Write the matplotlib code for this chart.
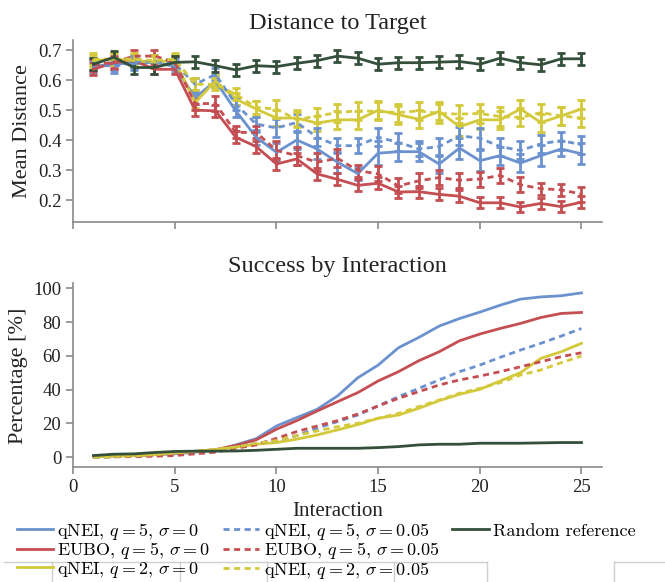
import numpy as np
import matplotlib
matplotlib.use('Agg')
import matplotlib.pyplot as plt
from matplotlib.lines import Line2D

plt.rcParams['font.family'] = ['Liberation Serif', 'DejaVu Serif']
plt.rcParams['mathtext.fontset'] = 'cm'

x = np.arange(1, 26)

# mean distance to target (top panel)
dist_qnei5 = [0.645, 0.655, 0.655, 0.66, 0.645, 0.542, 0.597, 0.498, 0.410, 0.360, 0.401, 0.371, 0.327,
              0.289, 0.357, 0.362, 0.362, 0.321, 0.374, 0.332, 0.349, 0.324, 0.349, 0.371, 0.355]
dist_qnei5_n = [0.655, 0.645, 0.66, 0.665, 0.655, 0.586, 0.619, 0.520, 0.454, 0.441, 0.459, 0.410, 0.382,
                0.382, 0.410, 0.393, 0.371, 0.379, 0.415, 0.407, 0.379, 0.366, 0.388, 0.399, 0.385]
dist_eubo5 = [0.636, 0.658, 0.665, 0.636, 0.636, 0.500, 0.498, 0.410, 0.379, 0.321, 0.338, 0.288, 0.270,
              0.250, 0.257, 0.228, 0.229, 0.220, 0.214, 0.192, 0.192, 0.178, 0.190, 0.179, 0.194]
dist_eubo5_n = [0.65, 0.66, 0.68, 0.68, 0.66, 0.522, 0.522, 0.426, 0.426, 0.366, 0.349, 0.327, 0.340,
                0.299, 0.288, 0.248, 0.265, 0.276, 0.267, 0.271, 0.283, 0.252, 0.239, 0.235, 0.221]
dist_qnei2 = [0.665, 0.67, 0.665, 0.66, 0.665, 0.526, 0.597, 0.537, 0.504, 0.474, 0.474, 0.457, 0.468,
              0.468, 0.500, 0.485, 0.470, 0.496, 0.445, 0.468, 0.468, 0.504, 0.459, 0.481, 0.504]
dist_qnei2_n = [0.67, 0.67, 0.67, 0.665, 0.67, 0.586, 0.586, 0.553, 0.509, 0.504, 0.468, 0.481, 0.492,
                0.498, 0.496, 0.492, 0.498, 0.489, 0.487, 0.489, 0.479, 0.476, 0.492, 0.481, 0.474]
dist_random = [0.653, 0.676, 0.642, 0.642, 0.659, 0.661, 0.648, 0.634, 0.648, 0.645, 0.656, 0.665, 0.680,
               0.673, 0.653, 0.658, 0.658, 0.660, 0.662, 0.653, 0.673, 0.658, 0.651, 0.671, 0.671]

# standard errors (half length of error bars)
err_qnei5 = [0.02, 0.02, 0.02, 0.02, 0.02, 0.02, 0.02, 0.02, 0.025, 0.03, 0.03, 0.035, 0.035,
             0.02, 0.04, 0.03, 0.03, 0.03, 0.035, 0.035, 0.03, 0.03, 0.035, 0.025, 0.035]
err_qnei5_n = [0.02, 0.02, 0.02, 0.02, 0.02, 0.02, 0.02, 0.02, 0.025, 0.03, 0.03, 0.03, 0.025,
               0.025, 0.03, 0.03, 0.025, 0.03, 0.03, 0.035, 0.03, 0.03, 0.03, 0.03, 0.03]
err_eubo5 = [0.02, 0.02, 0.02, 0.015, 0.015, 0.02, 0.02, 0.02, 0.02, 0.02, 0.02, 0.02, 0.02,
             0.02, 0.02, 0.02, 0.02, 0.02, 0.02, 0.018, 0.018, 0.018, 0.018, 0.018, 0.02]
err_eubo5_n = [0.02, 0.02, 0.02, 0.02, 0.02, 0.02, 0.025, 0.02, 0.02, 0.03, 0.03, 0.03, 0.03,
               0.02, 0.025, 0.025, 0.025, 0.025, 0.025, 0.025, 0.025, 0.025, 0.02, 0.02, 0.025]
err_qnei2 = [0.02, 0.02, 0.02, 0.02, 0.02, 0.02, 0.02, 0.02, 0.025, 0.025, 0.025, 0.025, 0.03,
             0.03, 0.03, 0.03, 0.03, 0.03, 0.03, 0.03, 0.03, 0.03, 0.03, 0.03, 0.03]
err_qnei2_n = [0.02, 0.02, 0.02, 0.02, 0.02, 0.02, 0.02, 0.02, 0.02, 0.03, 0.025, 0.025, 0.03,
               0.03, 0.03, 0.03, 0.03, 0.03, 0.03, 0.03, 0.03, 0.03, 0.03, 0.03, 0.03]
err_random = [0.02] * 25

# success percentage (bottom panel)
succ_qnei5 = [0.5, 0.8, 1.0, 1.5, 2.0, 3.0, 4.0, 7.3, 11.0, 18.5, 23.5, 28.4, 36.3,
              47.1, 54.6, 64.9, 71.0, 77.7, 82.2, 86.0, 90.1, 93.7, 95.0, 95.7, 97.4]
succ_qnei5_n = [0.0, 0.3, 0.6, 1.0, 1.6, 2.5, 3.5, 6.0, 8.3, 9.9, 12.8, 17.2, 21.1,
                25.0, 30.4, 35.9, 40.8, 45.8, 50.7, 54.6, 59.2, 63.5, 67.5, 71.8, 76.3]
succ_eubo5 = [0.5, 0.8, 1.0, 1.5, 2.5, 3.5, 4.5, 7.0, 10.3, 16.6, 21.7, 27.4, 32.9,
              38.3, 45.2, 50.7, 57.2, 62.5, 69.0, 73.0, 76.3, 79.3, 82.8, 85.2, 85.8]
succ_eubo5_n = [0.0, 0.2, 0.4, 0.6, 1.0, 2.0, 3.0, 5.3, 7.3, 11.2, 15.2, 18.5, 21.7,
                25.6, 30.4, 34.9, 38.9, 42.8, 45.8, 48.1, 50.7, 53.6, 56.6, 59.6, 61.9]
succ_qnei2 = [0.3, 0.6, 1.0, 1.5, 2.5, 3.5, 4.5, 6.0, 7.7, 8.7, 10.7, 13.2, 16.2,
              19.3, 23.1, 25.0, 29.0, 33.5, 37.3, 40.2, 45.2, 50.1, 58.6, 62.5, 67.5]
succ_qnei2_n = [0.0, 0.4, 0.8, 1.5, 2.5, 3.5, 4.5, 6.0, 8.2, 9.9, 12.8, 15.6, 18.1,
                20.1, 23.1, 26.0, 30.0, 33.9, 37.9, 40.8, 44.2, 48.7, 51.7, 56.0, 60.0]
succ_random = [1.0, 1.8, 2.0, 2.8, 3.4, 3.6, 3.6, 3.7, 4.1, 4.7, 5.3, 5.3, 5.3,
               5.3, 5.7, 6.3, 7.3, 7.7, 7.7, 8.3, 8.3, 8.3, 8.5, 8.7, 8.7]

labels = [r'qNEI, $q=5$, $\sigma=0$', r'EUBO, $q=5$, $\sigma=0$', r'qNEI, $q=2$, $\sigma=0$',
          r'qNEI, $q=5$, $\sigma=0.05$', r'EUBO, $q=5$, $\sigma=0.05$', r'qNEI, $q=2$, $\sigma=0.05$',
          'Random reference']

BLUE, RED, YELLOW, GREEN = '#6b92cf', '#c44e52', '#d3c93a', '#34503a'
DASH = (0, (2.2, 1.6))

series = [
    (dist_qnei5, err_qnei5, succ_qnei5, BLUE, '-'),
    (dist_eubo5, err_eubo5, succ_eubo5, RED, '-'),
    (dist_qnei2, err_qnei2, succ_qnei2, YELLOW, '-'),
    (dist_qnei5_n, err_qnei5_n, succ_qnei5_n, BLUE, DASH),
    (dist_eubo5_n, err_eubo5_n, succ_eubo5_n, RED, DASH),
    (dist_qnei2_n, err_qnei2_n, succ_qnei2_n, YELLOW, DASH),
    (dist_random, err_random, succ_random, GREEN, '-'),
]

fig = plt.figure(figsize=(6.65, 5.82), dpi=100)
ax1 = fig.add_axes([0.11, 0.618, 0.795, 0.313])
ax2 = fig.add_axes([0.11, 0.197, 0.795, 0.316])

handles = []
for (d, e, s, c, ls) in series:
    eb = ax1.errorbar(x, d, yerr=e, color=c, lw=2, capsize=3, capthick=2, elinewidth=2)
    eb[0].set_linestyle(ls)
    h, = ax2.plot(x, s, color=c, lw=2, ls=ls)
    handles.append(h)

for ax in (ax1, ax2):
    ax.set_xlim(0, 26)
    for sp in ('top', 'right'):
        ax.spines[sp].set_visible(False)
    for sp in ('left', 'bottom'):
        ax.spines[sp].set_color('#8a8a8a')
        ax.spines[sp].set_linewidth(1.2)
    ax.tick_params(colors='#8a8a8a', labelcolor='#222222', labelsize=13.5, length=5, width=1.2)
    ax.set_xticks([0, 5, 10, 15, 20, 25])

ax1.set_ylim(0.127, 0.733)
ax1.set_yticks([0.2, 0.3, 0.4, 0.5, 0.6, 0.7])
ax1.set_xticklabels([])
ax1.set_ylabel('Mean Distance', fontsize=16, color='#222222')
ax1.set_title('Distance to Target', fontsize=17.5, color='#222222', pad=8)

ax2.set_ylim(-6, 103)
ax2.set_yticks([0, 20, 40, 60, 80, 100])
ax2.set_ylabel('Percentage [%]', fontsize=16, color='#222222')
ax2.set_xlabel('Interaction', fontsize=15, color='#222222', labelpad=4)
ax2.set_title('Success by Interaction', fontsize=17.5, color='#222222', pad=8)

# faint boxes overlapping the legend's last row
W, H = 665.0, 582.0
box_col = '#cfcfcf'
fig.add_artist(Line2D([4 / W, 487 / W], [1 - 562 / H] * 2, color=box_col, lw=1, zorder=0))
fig.add_artist(Line2D([614 / W, 1], [1 - 562 / H] * 2, color=box_col, lw=1, zorder=0))
for xv in (52, 180, 267, 394, 487, 614):
    fig.add_artist(Line2D([xv / W] * 2, [0, 1 - 562 / H], color=box_col, lw=1, zorder=0))

blank = Line2D([], [], alpha=0)
leg_handles = handles[:6] + [handles[6], blank, blank]
leg_labels = labels[:6] + [labels[6], ' ', ' ']
fig.legend(leg_handles, leg_labels, ncol=3, loc='upper left', bbox_to_anchor=(0.0145, 0.118),
           frameon=False, prop={'family': 'cmr10', 'size': 13}, handlelength=2.0,
           handletextpad=0.25, columnspacing=0.7, labelspacing=-0.08, borderaxespad=0)

fig.savefig('out.png', dpi=100)
